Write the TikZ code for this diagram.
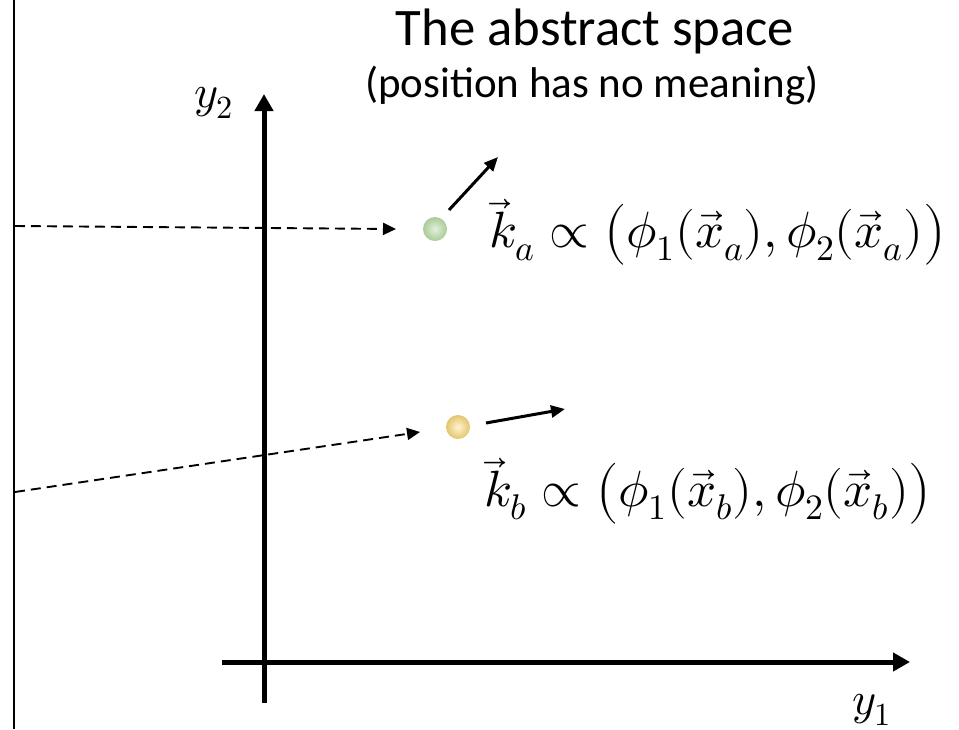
\documentclass[tikz,border=0pt]{standalone}
\usepackage{fontspec}
\usepackage{unicode-math}
\setmainfont{Carlito}
\setmathfont{Latin Modern Math}
\usetikzlibrary{arrows.meta,calc}
\tikzset{
  axis/.style={line width=5pt,-{Triangle[length=17pt,width=18pt]}},
  vecarrow/.style={line width=3pt,-{Triangle[length=14pt,width=12pt]}},
  dasharrow/.style={line width=1.9pt,dash pattern=on 10pt off 6pt,-{Triangle[length=13pt,width=12pt]}},
  ball/.style={circle,minimum size=24pt,inner sep=0pt},
  mathlabel/.style={anchor=west,inner sep=0pt,font=\fontsize{51}{56}\selectfont},
}
\definecolor{greenin}{HTML}{E4F0DC}
\definecolor{greenout}{HTML}{A9CB98}
\definecolor{yellowin}{HTML}{FFF4D0}
\definecolor{yellowout}{HTML}{E2C56E}
\begin{document}
\begin{tikzpicture}[x=1pt,y=-1pt]
\useasboundingbox (0,0) rectangle (959,729);
% frame line on the left
\draw[line width=2.8pt] (14,0) -- (14,729);
% axes
\coordinate (ytop) at (264,94);
\coordinate (ybot) at (264,703);
\coordinate (xl) at (222,662);
\coordinate (xr) at (910,662);
\draw[axis] (ybot) -- (ytop);
\draw[axis] (xl) -- (xr);
\node[font=\fontsize{46}{50}\selectfont] (y2) at (214,103) {$y_2$};
\node[font=\fontsize{46}{50}\selectfont] (y1) at (872,710) {$y_1$};
% title
\node[anchor=base,font=\fontsize{52.7}{58}\selectfont] (title) at (595,45) {The abstract space};
\node[anchor=base,font=\fontsize{43}{48}\selectfont] (sub) at (592,97) {(position has no meaning)};
% balls
\node[ball,inner color=greenin,outer color=greenout] (a) at (435,229) {};
\node[ball,inner color=yellowin,outer color=yellowout] (b) at (458,427) {};
% vectors
\coordinate (a1) at (449,210);
\coordinate (a2) at (498,157);
\draw[vecarrow] (a1) -- (a2);
\coordinate (b1) at (486,423);
\coordinate (b2) at (565,409);
\draw[vecarrow] (b1) -- (b2);
% dashed projections
\coordinate (da0) at (15,226);
\coordinate (da1) at (396,229);
\draw[dasharrow] (da0) -- (da1);
\coordinate (db0) at (15,492);
\coordinate (db1) at (420,432);
\draw[dasharrow] (db0) -- (db1);
% formulas
\node[mathlabel] (ka) at (489,232) {$\vec{k}_a \propto \bigl(\phi_1(\vec{x}_a), \phi_2(\vec{x}_a)\bigr)$};
\node[mathlabel] (kb) at (484,491) {$\vec{k}_b \propto \bigl(\phi_1(\vec{x}_b), \phi_2(\vec{x}_b)\bigr)$};
\end{tikzpicture}
\end{document}
